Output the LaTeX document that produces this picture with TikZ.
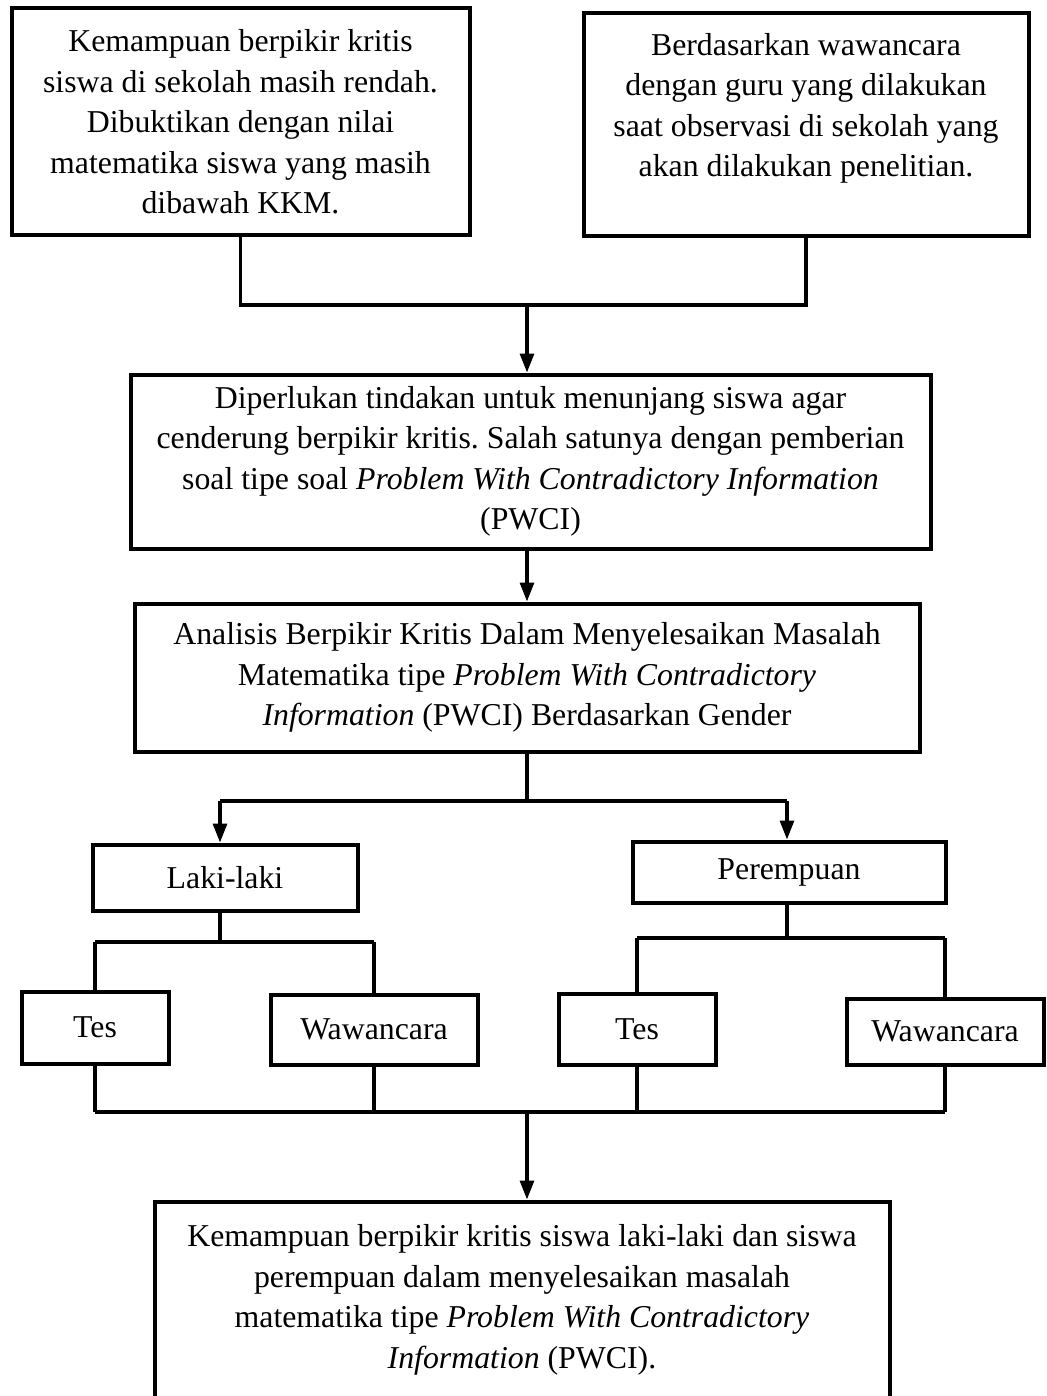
\documentclass[tikz,border=0pt]{standalone}
\usepackage{fontspec}
\setmainfont{Liberation Serif}
\usetikzlibrary{arrows.meta}
\frenchspacing
\begin{document}
\begin{tikzpicture}
  [x=.5pt,y=-.5pt,every node/.style={draw,line width=2pt,align=center,inner sep=0pt,font=\fontsize{15.9}{20.25}\selectfont}]
  \tikzstyle{garis} = [line width=1.6pt]
  \tikzstyle{panah} = [garis,-{Triangle[length=9.5pt,width=7pt]}]
  \useasboundingbox (0,0) rectangle (1046,1396);
  \node[minimum width=229pt,minimum height=113.5pt] (rendah) at (240.5,122) {Kemampuan berpikir kritis\\ siswa di sekolah masih rendah.\\ Dibuktikan dengan nilai\\ matematika siswa yang masih\\ dibawah KKM.};
  \node[minimum width=222.5pt,minimum height=111.5pt] (guru) at (806,125) {Berdasarkan wawancara\\ dengan guru yang dilakukan\\ saat observasi di sekolah yang\\ akan dilakukan penelitian.\\ ~};
  \node[minimum width=400pt,minimum height=87pt] (tindakan) at (530.5,461.5) {Diperlukan tindakan untuk menunjang siswa agar\\ cenderung berpikir kritis. Salah satunya dengan pemberian\\ soal tipe soal \textit{Problem With Contradictory Information}\\ (PWCI)};
  \node[minimum width=392.5pt,minimum height=74pt] (analisis) at (527,677.5) {Analisis Berpikir Kritis Dalam Menyelesaikan Masalah\\ Matematika tipe \textit{Problem With Contradictory}\\ \textit{Information} (PWCI) Berdasarkan Gender};
  \node[minimum width=132.5pt,minimum height=33pt] (laki) at (225,877.5) {Laki-laki};
  \node[minimum width=156.5pt,minimum height=30.5pt] (perempuan) at (789,872) {Perempuan};
  \node[minimum width=73.5pt,minimum height=36pt] (tesl) at (95,1027.5) {Tes};
  \node[minimum width=103.5pt,minimum height=35pt] (wawl) at (374,1029.5) {Wawancara};
  \node[minimum width=78.5pt,minimum height=35.5pt] (tesp) at (637,1029) {Tes};
  \node[minimum width=98.5pt,minimum height=33pt] (wawp) at (945,1031.5) {Wawancara};
  \node[minimum width=367.5pt,minimum height=98.5pt] (hasil) at (522,1300) {Kemampuan berpikir kritis siswa laki-laki dan siswa\\ perempuan dalam menyelesaikan masalah\\ matematika tipe \textit{Problem With Contradictory}\\ \textit{Information} (PWCI).};

  \coordinate (atas) at (527,305);
  \coordinate (cabang) at (527,801);
  \coordinate (kiri) at (220,801);
  \coordinate (kanan) at (787,801);
  \coordinate (busl) at (220,942);
  \coordinate (busp) at (787,938);
  \coordinate (bawah) at (527,1112);

  \draw[garis] (rendah.south) -- (rendah.south |- atas) -- (guru.south |- atas) -- (guru.south);
  \draw[panah] (atas) -- (atas |- tindakan.north);
  \draw[panah] (analisis.north |- tindakan.south) -- (analisis.north);
  \draw[garis] (analisis.south) -- (cabang);
  \draw[garis] (kiri) -- (kanan);
  \draw[panah] (kiri) -- (kiri |- laki.north);
  \draw[panah] (kanan) -- (kanan |- perempuan.north);
  \draw[garis] (busl |- laki.south) -- (busl);
  \draw[garis] (busp |- perempuan.south) -- (busp);
  \draw[garis] (tesl.north |- busl) -- (wawl.north |- busl);
  \draw[garis] (tesp.north |- busp) -- (wawp.north |- busp);
  \foreach \bus/\anak in {busl/tesl,busl/wawl,busp/tesp,busp/wawp}
    \draw[garis] (\anak.north |- \bus) -- (\anak.north);
  \foreach \anak in {tesl,wawl,tesp,wawp}
    \draw[garis] (\anak.south) -- (\anak.south |- bawah);
  \draw[garis] (tesl.south |- bawah) -- (wawp.south |- bawah);
  \draw[panah] (bawah) -- (bawah |- hasil.north);

\end{tikzpicture}
\end{document}
